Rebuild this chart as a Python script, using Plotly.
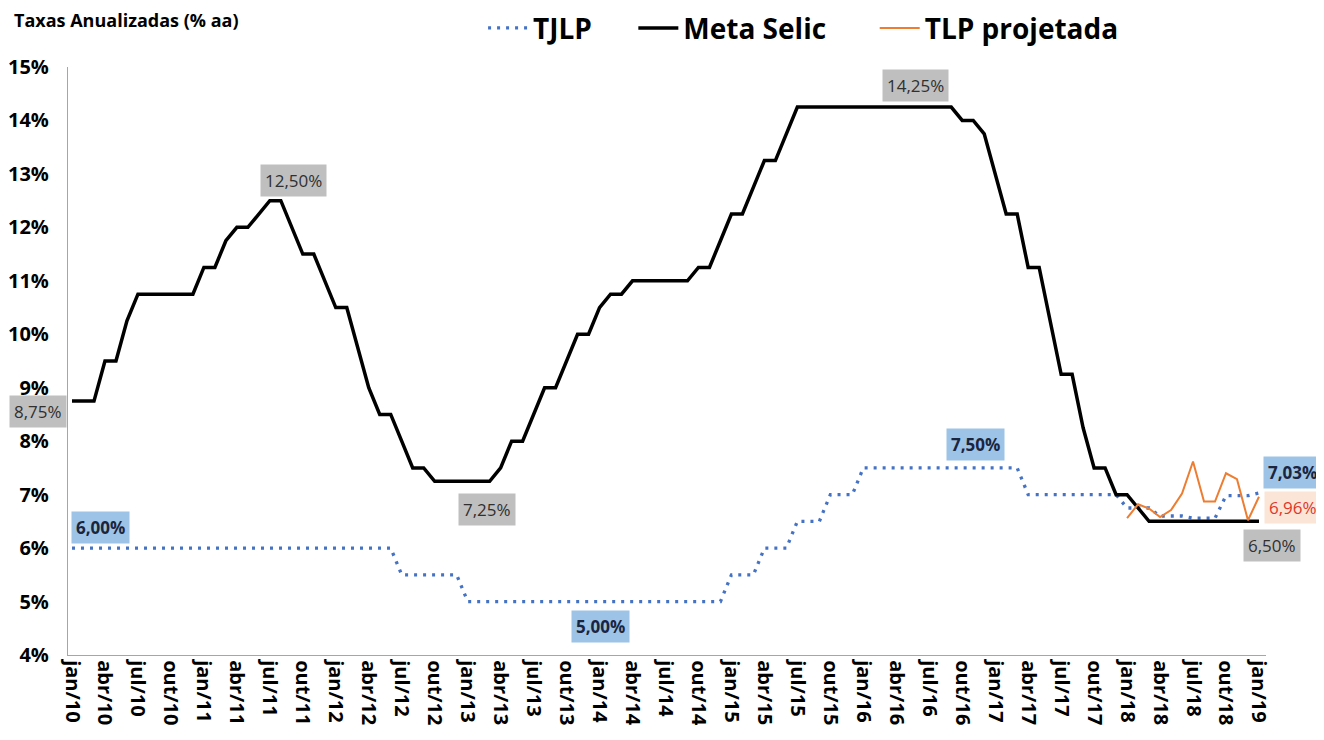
import plotly.graph_objects as go

# monthly, jan/10 .. jan/19
meses = ["jan", "fev", "mar", "abr", "mai", "jun", "jul", "ago", "set", "out", "nov", "dez"]
datas = [f"{m}/{a}" for a in range(10, 19) for m in meses] + ["jan/19"]

meta_selic = (
    [8.75, 8.75, 8.75, 9.50, 9.50, 10.25, 10.75, 10.75, 10.75, 10.75, 10.75, 10.75]      # 2010
    + [11.25, 11.25, 11.75, 12.00, 12.00, 12.25, 12.50, 12.50, 12.00, 11.50, 11.50, 11.00]  # 2011
    + [10.50, 10.50, 9.75, 9.00, 8.50, 8.50, 8.00, 7.50, 7.50, 7.25, 7.25, 7.25]        # 2012
    + [7.25, 7.25, 7.25, 7.50, 8.00, 8.00, 8.50, 9.00, 9.00, 9.50, 10.00, 10.00]        # 2013
    + [10.50, 10.75, 10.75, 11.00, 11.00, 11.00, 11.00, 11.00, 11.00, 11.25, 11.25, 11.75]  # 2014
    + [12.25, 12.25, 12.75, 13.25, 13.25, 13.75, 14.25, 14.25, 14.25, 14.25, 14.25, 14.25]  # 2015
    + [14.25, 14.25, 14.25, 14.25, 14.25, 14.25, 14.25, 14.25, 14.25, 14.00, 14.00, 13.75]  # 2016
    + [13.00, 12.25, 12.25, 11.25, 11.25, 10.25, 9.25, 9.25, 8.25, 7.50, 7.50, 7.00]    # 2017
    + [7.00, 6.75, 6.50, 6.50, 6.50, 6.50, 6.50, 6.50, 6.50, 6.50, 6.50, 6.50]          # 2018
    + [6.50]                                                                            # jan/19
)

tjlp = (
    [6.00] * 30            # jan/10 - jun/12
    + [5.50] * 6           # jul/12 - dez/12
    + [5.00] * 24          # 2013 - 2014
    + [5.50] * 3 + [6.00] * 3 + [6.50] * 3 + [7.00] * 3   # 2015
    + [7.50] * 12          # 2016
    + [7.50] * 3 + [7.00] * 9                              # 2017
    + [6.75] * 3 + [6.60] * 3 + [6.56] * 3 + [6.98] * 3   # 2018
    + [7.03]               # jan/19
)

# TLP projetada, jan/18 .. jan/19
tlp_inicio = 96
tlp = [6.56, 6.82, 6.74, 6.58, 6.71, 7.02, 7.62, 6.87, 6.87, 7.40, 7.29, 6.52, 6.96]

x_idx = list(range(len(datas)))
tick_idx = x_idx[::3]
tick_txt = datas[::3]

y_ticks = list(range(4, 16))
y_txt = [f"{v}%" for v in y_ticks]

FONT = "Open Sans"
NB = "\u00a0"

fig = go.Figure()
fig.add_trace(go.Scatter(x=x_idx, y=tjlp, mode="lines", name="TJLP" + NB * 5,
                         line=dict(color="#4472C4", width=3.3, dash="3px,6px")))
fig.add_trace(go.Scatter(x=x_idx, y=meta_selic, mode="lines", name="Meta Selic" + NB * 6,
                         line=dict(color="black", width=3.5)))
fig.add_trace(go.Scatter(x=x_idx[tlp_inicio:], y=tlp, mode="lines", name="TLP projetada",
                         line=dict(color="#ED7D31", width=2)))

# rotulos: texto, indice, valor, xshift, yshift, fundo, cor, negrito
rotulos = [
    ("8,75%", 0, 8.75, -34, -10, "#BFBFBF", "#303030", False),
    ("12,50%", 18, 12.50, 24, 20, "#BFBFBF", "#303030", False),
    ("7,25%", 38, 7.25, -3, -28, "#BFBFBF", "#303030", False),
    ("14,25%", 77, 14.25, -3, 22, "#BFBFBF", "#303030", False),
    ("6,50%", 108, 6.50, 13, -24, "#BFBFBF", "#303030", False),
    ("6,00%", 0, 6.00, 28, 21, "#9DC3E6", "#1A2540", True),
    ("5,00%", 48, 5.00, 1, -25, "#9DC3E6", "#1A2540", True),
    ("7,50%", 82, 7.50, 2, 23, "#9DC3E6", "#1A2540", True),
    ("7,03%", 108, 7.03, 34, 21, "#9DC3E6", "#1A2540", True),
    ("6,96%", 108, 6.96, 34, -11, "#FBE5D6", "#E0362C", False),
]
for txt, xi, yv, dx, dy, bg, cor, neg in rotulos:
    fig.add_annotation(x=xi, y=yv, text=txt, showarrow=False, xshift=dx, yshift=dy,
                       bgcolor=bg, borderpad=4,
                       font=dict(family=FONT, size=17, color=cor,
                                 weight="bold" if neg else "normal"))

fig.add_annotation(xref="paper", yref="paper", x=-0.0467, y=1.08, xanchor="left",
                   yanchor="middle", showarrow=False, text="Taxas Anualizadas (% aa)",
                   font=dict(family=FONT, size=18, color="black", weight="bold"))

# the page has an 8px body margin, so the figure is drawn 8px smaller
fig.update_layout(
    width=1316, height=732,
    margin=dict(l=60, r=58, t=59, b=85, autoexpand=False),
    paper_bgcolor="white", plot_bgcolor="white",
    font=dict(family=FONT, color="black"),
    showlegend=True,
    legend=dict(orientation="h", x=0.614, y=1.066, xanchor="center", yanchor="middle",
                font=dict(family=FONT, size=28, color="black", weight="bold"),
                bgcolor="rgba(0,0,0,0)", itemwidth=40),
)
fig.update_xaxes(range=[-0.364, 108.64], tickmode="array", tickvals=tick_idx, ticktext=tick_txt,
                 tickangle=90, tickfont=dict(family=FONT, size=20, color="black", weight="bold"),
                 showline=True, linecolor="#A6A6A6", linewidth=1.3, showgrid=False,
                 zeroline=False, ticks="", automargin=False)
fig.update_yaxes(range=[4, 15], tickmode="array", tickvals=y_ticks, ticktext=y_txt,
                 tickfont=dict(family=FONT, size=20, color="black", weight="bold"),
                 showline=True, linecolor="#A6A6A6", linewidth=1.3, showgrid=False,
                 zeroline=False, ticks="", ticklabelstandoff=14, automargin=False)

fig.write_html("out.html")
